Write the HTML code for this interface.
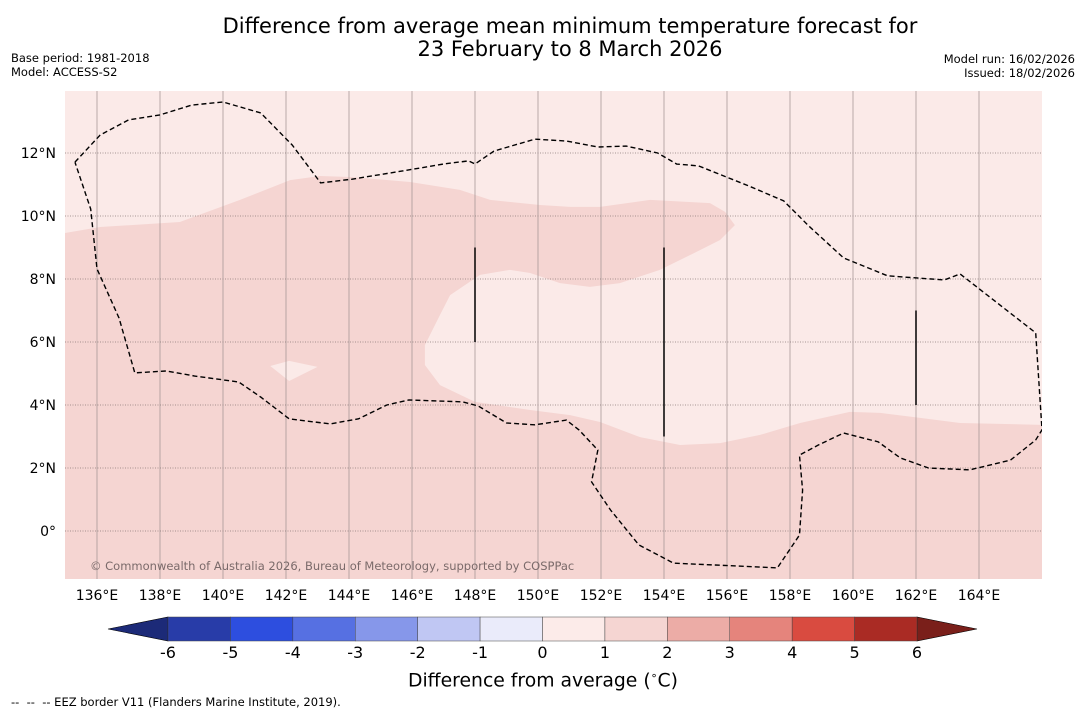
<!DOCTYPE html>
<html><head><meta charset="utf-8">
<style>
body{margin:0;background:#fff;font-family:"DejaVu Sans","Liberation Sans",sans-serif;}
#wrap{position:relative;width:1085px;height:713px;overflow:hidden;background:#fff;}
.t{position:absolute;white-space:nowrap;color:#000;}
svg text{font-family:"DejaVu Sans","Liberation Sans",sans-serif;}
</style></head><body>
<div id="wrap">
<div class="t" style="left:0;width:1140px;text-align:center;top:15px;font-size:21px;line-height:23px;">Difference from average mean minimum temperature forecast for<br>23 February to 8 March 2026</div>
<div class="t" style="left:11px;top:51px;font-size:11.5px;line-height:14px;">Base period: 1981-2018<br>Model: ACCESS-S2</div>
<div class="t" style="right:10px;top:52px;font-size:11.5px;line-height:14px;text-align:right;">Model run: 16/02/2026<br>Issued: 18/02/2026</div>
<div class="t" style="left:408px;top:669px;font-size:18.8px;">Difference from average (<sup style="font-size:11px">∘</sup>C)</div>
<div class="t" style="left:11px;top:695px;font-size:11.5px;">-- &nbsp;-- &nbsp;-- EEZ border V11 (Flanders Marine Institute, 2019).</div>
<svg id="svg" width="1085" height="713" style="position:absolute;left:0;top:0"></svg>
</div>
<script>
// ---- data ----
const lonTicks=[136,138,140,142,144,146,148,150,152,154,156,158,160,162,164];
const latTicks=[0,2,4,6,8,10,12];
const cbLevels=[-6,-5,-4,-3,-2,-1,0,1,2,3,4,5,6];
const cbColors=["#283ca8","#2d4edf","#5670e2","#8697ea","#c0c7f3","#eaebfa","#fcebe9","#f5d5d2","#ecaca6","#e5847c","#d94b40","#aa2b24"];
// light (0-1) region boundary, lon/lat
const lightLon=[134.98,136.1,138.63,140.54,142.13,143.08,144.03,145.94,147.52,148.48,150.06,151.02,151.97,153.56,155.46,155.94,156.25,155.78,154.83,153.87,152.6,151.65,150.7,149.75,149.11,148.16,147.21,146.89,146.41,146.41,146.89,148.0,149.75,151.02,151.97,153.24,154.51,155.78,157.05,158.32,159.9,160.86,162.13,163.4,166];
const lightLat=[9.46,9.65,9.81,10.51,11.14,11.27,11.24,11.08,10.83,10.51,10.35,10.29,10.29,10.51,10.41,10.13,9.71,9.24,8.76,8.29,7.87,7.75,7.87,8.19,8.29,8.13,7.49,6.86,5.9,5.27,4.63,4.1,3.84,3.68,3.46,2.98,2.73,2.79,3.05,3.43,3.78,3.75,3.59,3.43,3.37];
const patchLon=[141.5,142.1,143.0,142.1];
const patchLat=[5.24,5.4,5.21,4.76];
const eezLon=[135.3,136.1,137.0,138.0,139.0,140.0,141.2,142.2,143.1,144.1,145.7,147.0,147.8,148.0,148.6,149.9,150.9,151.9,152.8,153.8,154.4,155.1,156.7,157.8,158.6,159.7,161.1,162.9,163.4,165.8,166.0,165.8,165.0,163.7,162.4,161.5,160.8,159.7,158.9,158.3,158.4,158.3,157.6,154.3,153.2,152.3,151.7,151.9,151.3,150.9,149.9,149.0,148.1,147.6,145.9,145.2,144.3,143.4,142.1,141.2,140.5,139.1,138.2,137.2,136.7,136.0,135.8,135.3];
const eezLat=[11.71,12.57,13.05,13.21,13.52,13.62,13.27,12.25,11.05,11.17,11.43,11.65,11.75,11.65,12.06,12.44,12.38,12.19,12.22,12.00,11.65,11.59,10.95,10.48,9.68,8.67,8.10,7.97,8.16,6.29,3.21,2.89,2.25,1.94,2.00,2.32,2.83,3.11,2.73,2.41,1.30,-0.13,-1.17,-1.02,-0.44,0.67,1.56,2.57,3.21,3.52,3.37,3.43,3.97,4.10,4.16,4.00,3.56,3.40,3.56,4.25,4.73,4.92,5.08,5.02,6.76,8.32,10.22,11.71];
const barLon=[148,154,162];
const barLat0=[6,3,4];
const barLat1=[9,9,7];
// ---- axes ----
const X=l=>97+(l-136)*31.5;
const Y=l=>531-l*31.5;
const NS="http://www.w3.org/2000/svg";
const svg=document.getElementById('svg');
function mk(tag,attrs,parent){const e=document.createElementNS(NS,tag);for(const k in attrs)e.setAttribute(k,attrs[k]);(parent||svg).appendChild(e);return e;}
const defs=mk('defs',{});const cp=mk('clipPath',{id:'mc'},defs);mk('rect',{x:65,y:91,width:977,height:488},cp);
const g=mk('g',{'clip-path':'url(#mc)'});
let e=mk('rect',{x:65,y:91,width:977,height:488,fill:'#f5d5d2'},g);


let pts=`${X(166)},${Y(15)} ${X(134)},${Y(15)} `+lightLon.map((l,i)=>X(l)+','+Y(lightLat[i])).join(' ');
e=mk('polygon',{points:pts,fill:'#fbeae8'},g);


e=mk('polygon',{points:patchLon.map((l,i)=>X(l)+','+Y(patchLat[i])).join(' '),fill:'#fbeae8'},g);


lonTicks.forEach(l=>{const ln=mk('line',{x1:X(l),x2:X(l),y1:91,y2:579,stroke:'#a89898','stroke-width':0.8},g);

});
latTicks.forEach(l=>{const ln=mk('line',{x1:65,x2:1042,y1:Y(l),y2:Y(l),stroke:'#8a7a7a','stroke-width':0.8,'stroke-dasharray':'1,1.5'},g);

});
e=mk('polyline',{points:eezLon.map((l,i)=>X(l)+','+Y(eezLat[i])).join(' '),fill:'none',stroke:'#000','stroke-width':1.4,'stroke-dasharray':'5,3'},g);


barLon.forEach((l,i)=>{const b=mk('line',{x1:X(l),x2:X(l),y1:Y(barLat1[i]),y2:Y(barLat0[i]),stroke:'#000','stroke-width':1.5},g);

});
e=mk('text',{x:90,y:570,'font-size':11.5,fill:'#7a6a6a'},g);e.textContent='© Commonwealth of Australia 2026, Bureau of Meteorology, supported by COSPPac';


lonTicks.forEach(l=>{const t=mk('text',{x:X(l),y:600,'font-size':14,'text-anchor':'middle'});t.textContent=l+'°E';

});
latTicks.forEach(l=>{const t=mk('text',{x:56,y:Y(l)+5,'font-size':14,'text-anchor':'end'});t.textContent=l===0?'0°':l+'°N';

});
// colorbar
const CB=v=>168+(v+6)*(749/12);
e=mk('polygon',{points:`108,629 ${CB(-6)},617 ${CB(-6)},641`,fill:'#1c2a78',stroke:'#000','stroke-width':0.6});


e=mk('polygon',{points:`977,629 ${CB(6)},617 ${CB(6)},641`,fill:'#7a1f1a',stroke:'#000','stroke-width':0.6});


cbColors.forEach((c,i)=>{const r=mk('rect',{x:CB(cbLevels[i]),y:617,width:CB(cbLevels[i+1])-CB(cbLevels[i]),height:24,fill:c,stroke:'#444','stroke-width':0.5});

});
cbLevels.forEach(v=>{const t=mk('text',{x:CB(v),y:658,'font-size':16,'text-anchor':'middle'});t.textContent=v;

});
</script>
</body></html>
